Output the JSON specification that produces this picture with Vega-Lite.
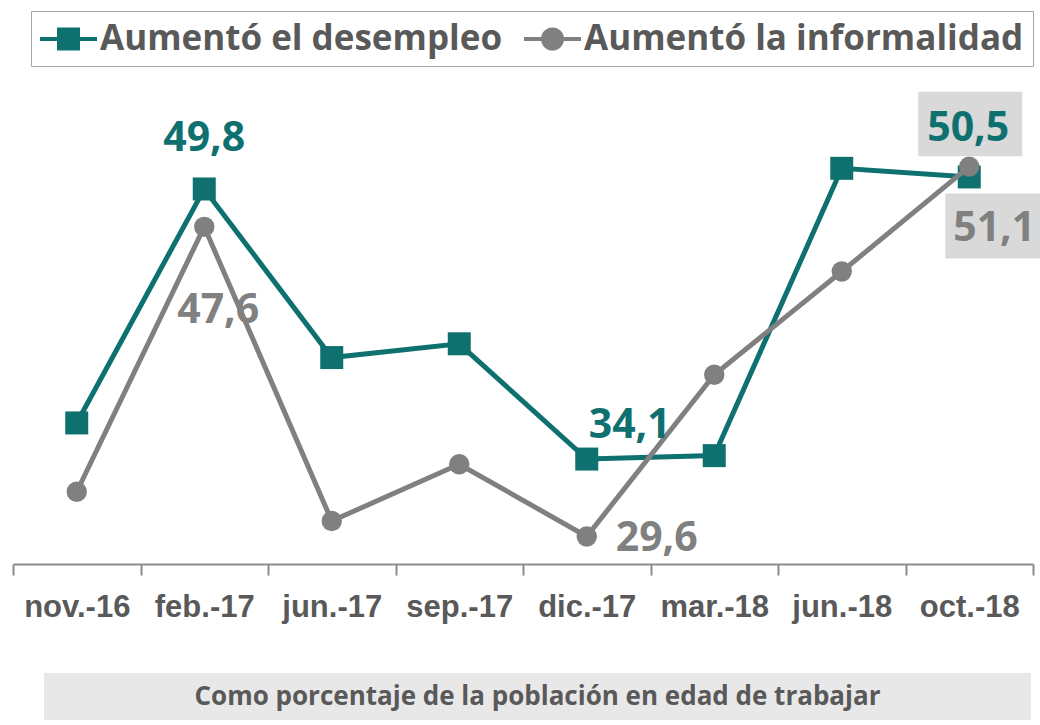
{
  "$schema": "https://vega.github.io/schema/vega-lite/v6.json",
  "padding": {"left": 12, "top": 10, "right": 8, "bottom": 0},
  "background": "white",
  "spacing": 51,
  "config": {
    "view": {"stroke": null},
    "locale": {"number": {"decimal": ",", "thousands": ".", "grouping": [3], "currency": ["", " €"]}}
  },
  "vconcat": [
    {
      "width": 1020,
      "height": 492,
      "data": {
        "values": [
          {"mes": "nov.-16", "serie": "Aumentó el desempleo", "valor": 36.2},
          {"mes": "feb.-17", "serie": "Aumentó el desempleo", "valor": 49.8},
          {"mes": "jun.-17", "serie": "Aumentó el desempleo", "valor": 40.0},
          {"mes": "sep.-17", "serie": "Aumentó el desempleo", "valor": 40.8},
          {"mes": "dic.-17", "serie": "Aumentó el desempleo", "valor": 34.1},
          {"mes": "mar.-18", "serie": "Aumentó el desempleo", "valor": 34.3},
          {"mes": "jun.-18", "serie": "Aumentó el desempleo", "valor": 51.0},
          {"mes": "oct.-18", "serie": "Aumentó el desempleo", "valor": 50.5},
          {"mes": "nov.-16", "serie": "Aumentó la informalidad", "valor": 32.2},
          {"mes": "feb.-17", "serie": "Aumentó la informalidad", "valor": 47.6},
          {"mes": "jun.-17", "serie": "Aumentó la informalidad", "valor": 30.5},
          {"mes": "sep.-17", "serie": "Aumentó la informalidad", "valor": 33.8},
          {"mes": "dic.-17", "serie": "Aumentó la informalidad", "valor": 29.6},
          {"mes": "mar.-18", "serie": "Aumentó la informalidad", "valor": 39.0},
          {"mes": "jun.-18", "serie": "Aumentó la informalidad", "valor": 45.0},
          {"mes": "oct.-18", "serie": "Aumentó la informalidad", "valor": 51.1}
        ]
      },
      "encoding": {
        "x": {
          "field": "mes", "type": "nominal", "sort": null,
          "scale": {"paddingInner": 0, "paddingOuter": 0},
          "axis": {
            "title": null, "labelAngle": 0, "tickBand": "extent",
            "domainColor": "#8c8c8c", "domainWidth": 2, "tickColor": "#8c8c8c", "tickWidth": 2, "tickSize": 11,
            "labelPadding": 17, "labelFont": "Liberation Sans", "labelFontSize": 31, "labelFontWeight": "bold", "labelColor": "#595959"
          }
        },
        "y": {
          "field": "valor", "type": "quantitative",
          "scale": {"domain": [28.0, 56.6], "nice": false, "zero": false},
          "axis": null
        }
      },
      "layer": [
        {
          "transform": [{"filter": "datum.serie === 'Aumentó el desempleo'"}],
          "mark": {"type": "line", "strokeWidth": 5},
          "encoding": {
            "color": {
              "field": "serie", "type": "nominal",
              "scale": {"domain": ["Aumentó el desempleo", "Aumentó la informalidad"], "range": ["#0f7070", "#808080"]},
              "legend": {
                "title": null, "orient": "none", "legendX": 18, "legendY": -61, "direction": "horizontal",
                "strokeColor": "#a6a6a6", "fillColor": "white", "padding": 9,
                "symbolSize": 1156, "symbolStrokeWidth": 4,
                "labelFont": "Open Sans", "labelFontSize": 35, "labelFontWeight": "bold", "labelColor": "#595959",
                "labelOffset": 22, "columnPadding": 12, "labelLimit": 0,
                "encode": {
                  "symbols": {
                    "update": {
                      "shape": {"signal": "datum.value === 'Aumentó el desempleo' ? 'M-1.118,0H2.235M0,-0.56H1.118V0.56H0Z' : 'M-1.118,0H2.235M1.119,0A0.56,0.56,0,1,1,-0.001,0A0.56,0.56,0,1,1,1.119,0Z'"},
                      "fill": {"signal": "scale('color', datum.value)"},
                      "stroke": {"signal": "scale('color', datum.value)"},
                      "strokeWidth": {"value": 4},
                      "opacity": {"value": 1},
                      "fillOpacity": {"value": 1},
                      "strokeOpacity": {"value": 1}
                    }
                  }
                }
              }
            }
          }
        },
        {
          "transform": [{"filter": "datum.serie === 'Aumentó el desempleo'"}],
          "mark": {"type": "point", "shape": "square", "size": 529, "filled": true, "opacity": 1, "color": "#0f7070"}
        },
        {
          "transform": [{"filter": "datum.serie === 'Aumentó la informalidad'"}],
          "mark": {"type": "line", "strokeWidth": 5},
          "encoding": {"color": {"field": "serie", "type": "nominal"}}
        },
        {
          "transform": [{"filter": "datum.serie === 'Aumentó la informalidad'"}],
          "mark": {"type": "point", "shape": "circle", "size": 415, "filled": true, "opacity": 1, "color": "#808080"}
        },
        {
          "transform": [{"filter": "datum.serie === 'Aumentó el desempleo' && datum.mes === 'oct.-18'"}],
          "mark": {"type": "point", "shape": "M-1,-0.62H1V0.62H-1Z", "size": 10816, "filled": true, "opacity": 1, "color": "#d9d9d9", "xOffset": 1, "yOffset": -53}
        },
        {
          "transform": [{"filter": "datum.serie === 'Aumentó la informalidad' && datum.mes === 'oct.-18'"}],
          "mark": {"type": "point", "shape": "M-1,-0.677H1V0.677H-1Z", "size": 9216, "filled": true, "opacity": 1, "color": "#d9d9d9", "xOffset": 24, "yOffset": 59.5}
        },
        {
          "transform": [{"filter": "datum.serie === 'Aumentó el desempleo' && datum.mes === 'feb.-17'"}],
          "mark": {"type": "text", "font": "Open Sans", "fontSize": 41, "fontWeight": "bold", "color": "#0f7070", "baseline": "middle", "dy": -50},
          "encoding": {"text": {"field": "valor", "type": "quantitative", "format": ".1f"}}
        },
        {
          "transform": [{"filter": "datum.serie === 'Aumentó la informalidad' && datum.mes === 'feb.-17'"}],
          "mark": {"type": "text", "font": "Open Sans", "fontSize": 41, "fontWeight": "bold", "color": "#808080", "baseline": "middle", "dx": 14, "dy": 84},
          "encoding": {"text": {"field": "valor", "type": "quantitative", "format": ".1f"}}
        },
        {
          "transform": [{"filter": "datum.serie === 'Aumentó el desempleo' && datum.mes === 'dic.-17'"}],
          "mark": {"type": "text", "font": "Open Sans", "fontSize": 41, "fontWeight": "bold", "color": "#0f7070", "baseline": "middle", "dx": 43, "dy": -33.5},
          "encoding": {"text": {"field": "valor", "type": "quantitative", "format": ".1f"}}
        },
        {
          "transform": [{"filter": "datum.serie === 'Aumentó la informalidad' && datum.mes === 'dic.-17'"}],
          "mark": {"type": "text", "font": "Open Sans", "fontSize": 41, "fontWeight": "bold", "color": "#808080", "baseline": "middle", "dx": 70, "dy": 2.5},
          "encoding": {"text": {"field": "valor", "type": "quantitative", "format": ".1f"}}
        },
        {
          "transform": [{"filter": "datum.serie === 'Aumentó el desempleo' && datum.mes === 'oct.-18'"}],
          "mark": {"type": "text", "font": "Open Sans", "fontSize": 41, "fontWeight": "bold", "color": "#0f7070", "baseline": "middle", "dx": -1, "dy": -47.5},
          "encoding": {"text": {"field": "valor", "type": "quantitative", "format": ".1f"}}
        },
        {
          "transform": [{"filter": "datum.serie === 'Aumentó la informalidad' && datum.mes === 'oct.-18'"}],
          "mark": {"type": "text", "font": "Open Sans", "fontSize": 41, "fontWeight": "bold", "color": "#808080", "baseline": "middle", "dx": 25, "dy": 62.5},
          "encoding": {"text": {"field": "valor", "type": "quantitative", "format": ".1f"}}
        }
      ]
    },
    {
      "spacing": 30,
      "hconcat": [
        {
          "width": 1,
          "height": 47,
          "data": {"values": []},
          "mark": {"type": "rect"},
          "encoding": {}
        },
        {
          "width": 987,
          "height": 47,
          "view": {"fill": "#e8e8e8", "stroke": null},
          "data": {"values": [{"nota": "Como porcentaje de la población en edad de trabajar"}]},
          "mark": {"type": "text", "font": "Open Sans", "fontSize": 26, "fontWeight": "bold", "color": "#595959", "baseline": "middle", "align": "center"},
          "encoding": {"text": {"field": "nota", "type": "nominal"}}
        }
      ]
    }
  ]
}
